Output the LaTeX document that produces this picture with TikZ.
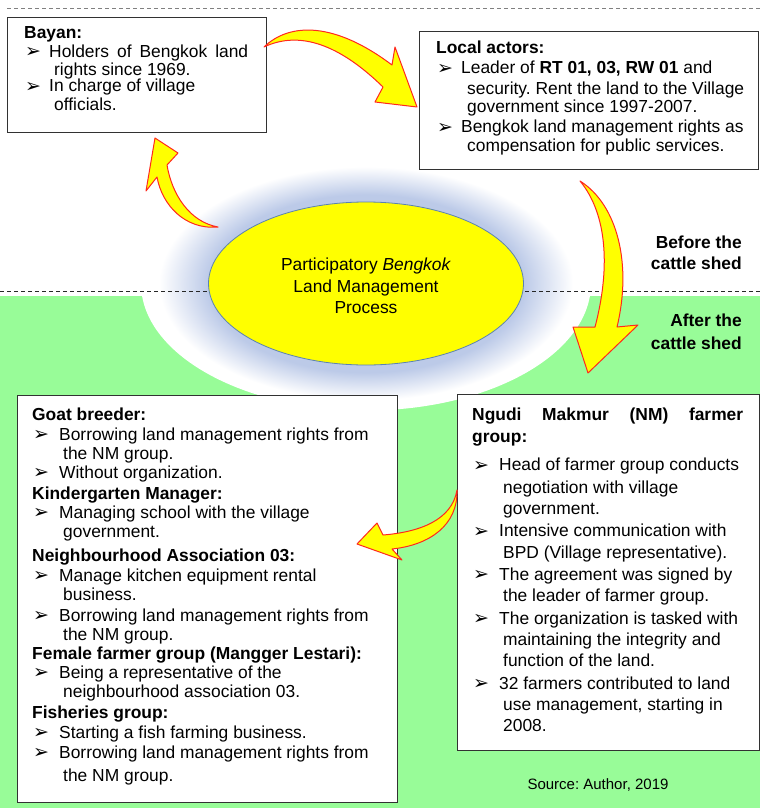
\documentclass[tikz,border=0pt]{standalone}
\usepackage{fontspec}
\setmainfont{Liberation Sans}
\newfontfamily\bulfont{DejaVu Sans}
\usetikzlibrary{shapes.geometric}
\definecolor{grn}{RGB}{152,252,152}
\definecolor{yel}{RGB}{255,255,0}
\definecolor{arred}{RGB}{255,40,30}
\definecolor{glowc}{RGB}{188,202,232}
\definecolor{ellb}{RGB}{90,130,180}
\definecolor{boxline}{RGB}{50,50,50}
\pgfdeclareradialshading{glowshade}{\pgfpointorigin}{color(0bp)=(glowc); color(17.5bp)=(glowc); color(23bp)=(white); color(25bp)=(white); color(50bp)=(white)}
\newcommand{\bul}[1][24pt]{\makebox[#1][l]{\raisebox{-0.5pt}{\bulfont\fontsize{19}{19}\selectfont ➢}}}
\frenchspacing
\begin{document}
\begin{tikzpicture}[x=1pt,y=-1pt,
  ln/.style={anchor=base west, inner sep=0pt, font=\fontsize{17.4}{20}\selectfont},
  hd/.style={ln, font=\fontsize{17.4}{20}\selectfont\bfseries},
  box/.style={draw=boxline, line width=1.1pt, fill=white, anchor=north west, inner sep=0pt},
  blk/.style={fill=yel, draw=arred, line width=1pt, line join=round},
  dashln/.style={line width=0.8pt, dash pattern=on 4pt off 3pt}]
\useasboundingbox (0,0) rectangle (760,808);
\fill[white] (0,0) rectangle (760,808);
\fill[grn] (0,296) rectangle (760,808);
\shade[shading=glowshade] (366,283.5) ellipse [x radius=225pt, y radius=127pt];
\draw[dashln, draw=gray] (7,8.5) -- (760,8.5);
\draw[dashln, draw=black!85] (0,291) -- (760,291);
% central process
\node[ellipse, fill=yel, draw=ellb, line width=0.8pt, minimum width=315pt, minimum height=163pt, inner sep=0pt] (proc) at (366,283.5) {};
\node[ln, anchor=base] (pt1) at (366,270.7) {Participatory \textit{Bengkok}};
\node[ln, anchor=base] (pt2) at (366,292.7) {Land Management};
\node[ln, anchor=base] (pt3) at (366,313) {Process};
% period labels
\node[hd, anchor=base east] (bef1) at (742,248.3) {Before the};
\node[hd, anchor=base east] (bef2) at (742,269.3) {cattle shed};
\node[hd, anchor=base east] (aft1) at (742,326.7) {After the};
\node[hd, anchor=base east] (aft2) at (742,349.3) {cattle shed};
% boxes
\node[box, minimum width=259pt, minimum height=115pt] (bayan) at (7,17) {};
\node[box, minimum width=339pt, minimum height=138pt] (local) at (419,31) {};
\node[box, minimum width=380pt, minimum height=407pt] (users) at (17,395) {};
\node[box, minimum width=302pt, minimum height=356pt] (ngudi) at (457,394) {};
% Bayan text
\node[hd] (bay0) at (24,39) {Bayan:};
\node[ln] (bay1) at (25,57.5) {\bul\makebox[199pt][s]{Holders of Bengkok land}};
\node[ln] (bay2) at (54,75.5) {rights since 1969.};
\node[ln] (bay3) at (25,92) {\bul In charge of village};
\node[ln] (bay4) at (54,110) {officials.};
% Local actors text
\node[hd] (loc0) at (436,53.3) {Local actors:};
\node[ln] (loc1) at (437,74) {\bul Leader of \textbf{RT 01, 03, RW 01} and};
\node[ln] (loc2) at (467,94) {security. Rent the land to the Village};
\node[ln] (loc3) at (467,112.7) {government since 1997-2007.};
\node[ln] (loc4) at (437,132.7) {\bul Bengkok land management rights as};
\node[ln] (loc5) at (467,151.7) {compensation for public services.};
% users text
\node[hd] (gb0) at (32,420.7) {Goat breeder:};
\node[ln] (gb1) at (33,440) {\bul[26pt]Borrowing land management rights from};
\node[ln] (gb2) at (63,459) {the NM group.};
\node[ln] (gb3) at (33,478) {\bul[26pt]Without organization.};
\node[hd] (gb4) at (32,499) {Kindergarten Manager:};
\node[ln] (gb5) at (33,518) {\bul[26pt]Managing school with the village};
\node[ln] (gb6) at (63,537) {government.};
\node[hd] (gb7) at (32,561) {Neighbourhood Association 03:};
\node[ln] (gb8) at (33,581) {\bul[26pt]Manage kitchen equipment rental};
\node[ln] (gb9) at (63,600) {business.};
\node[ln] (gb10) at (33,621) {\bul[26pt]Borrowing land management rights from};
\node[ln] (gb11) at (63,640) {the NM group.};
\node[hd] (gb12) at (32,659) {Female farmer group (Mangger Lestari):};
\node[ln] (gb13) at (33,678) {\bul[26pt]Being a representative of the};
\node[ln] (gb14) at (63,697) {neighbourhood association 03.};
\node[hd] (gb15) at (32,718) {Fisheries group:};
\node[ln] (gb16) at (33,738) {\bul[26pt]Starting a fish farming business.};
\node[ln] (gb17) at (33,758) {\bul[26pt]Borrowing land management rights from};
\node[ln] (gb18) at (63,781) {the NM group.};
% Ngudi Makmur text
\node[hd] (nm0) at (472,420.7) {\makebox[271pt][s]{Ngudi Makmur (NM) farmer}};
\node[hd] (nm1) at (472,442.7) {group:};
\node[ln] (nm2) at (473,470.7) {\bul[26pt]Head of farmer group conducts};
\node[ln] (nm3) at (503,493) {negotiation with village};
\node[ln] (nm4) at (503,514) {government.};
\node[ln] (nm5) at (473,536.7) {\bul[26pt]Intensive communication with};
\node[ln] (nm6) at (503,558) {BPD (Village representative).};
\node[ln] (nm7) at (473,580) {\bul[26pt]The agreement was signed by};
\node[ln] (nm8) at (503,601.7) {the leader of farmer group.};
\node[ln] (nm9) at (473,624) {\bul[26pt]The organization is tasked with};
\node[ln] (nm10) at (503,645.7) {maintaining the integrity and};
\node[ln] (nm11) at (503,666.7) {function of the land.};
\node[ln] (nm12) at (473,689) {\bul[26pt]32 farmers contributed to land};
\node[ln] (nm13) at (503,710.7) {use management, starting in};
\node[ln] (nm14) at (503,731.7) {2008.};
% source
\node[anchor=base, inner sep=0pt, font=\fontsize{15}{18}\selectfont] (src) at (598,789) {Source: Author, 2019};
% block arrows
\draw[blk] (264,47) .. controls (290,22) and (335,22) .. (392,65) -- (395,47) -- (417,107) -- (375,102) -- (383,87) .. controls (340,45) and (300,30) .. (264,47) -- cycle;
\draw[blk] (155,138) -- (178,153) -- (167,165) .. controls (172,195) and (190,222) .. (218,227) .. controls (185,230) and (162,205) .. (157,177) -- (146,191) -- cycle;
\draw[blk] (580,181) .. controls (618,205) and (632,265) .. (617,327) -- (638,325) -- (588,373) -- (573,327) -- (595,327) .. controls (610,270) and (608,215) .. (580,181) -- cycle;
\draw[blk] (457,490) .. controls (452,520) and (420,532) .. (383,535) -- (377,523) -- (357,544) -- (402,560) -- (392,549) .. controls (430,545) and (458,525) .. (457,490) -- cycle;
\end{tikzpicture}
\end{document}
